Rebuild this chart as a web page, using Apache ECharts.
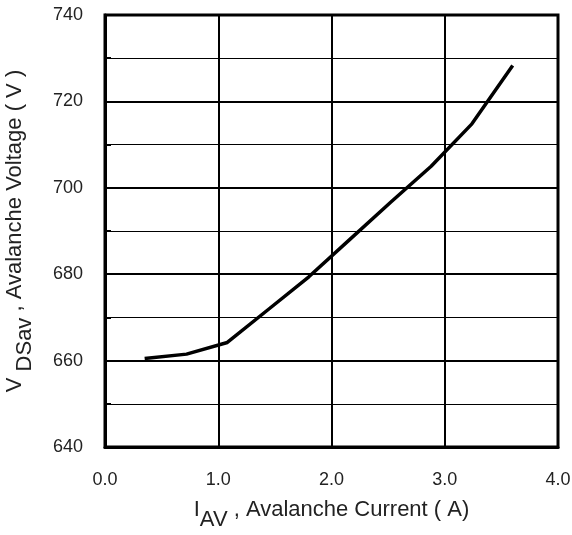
<!DOCTYPE html>
<html>
<head>
<meta charset="utf-8">
<script src="https://cdn.jsdelivr.net/npm/echarts@6/dist/echarts.min.js"></script>
<style>
  html, body { margin: 0; padding: 0; background: #fff; }
  #chart { width: 572px; height: 535px; }
</style>
</head>
<body>
<div id="chart"></div>
<script>
// 雪崩电流 (A) 与 雪崩电压 (V)
const currentA = [0.35, 0.72, 1.08, 1.45, 1.8, 2.16, 2.52, 2.88, 3.24, 3.6]
const voltageV = [660.5, 661.5, 664.2, 672.0, 679.4, 688.0, 696.6, 705.0, 714.8, 728.3]

const chart = echarts.init(document.getElementById('chart'))

const font = 'Liberation Sans, Arial, sans-serif'
const textColor = '#222'

// 主文字 + 下标
const nameRich = {
  m: { fontSize: 22, fontFamily: font, color: textColor, lineHeight: 24, verticalAlign: 'top' },
  s: { fontSize: 22, fontFamily: font, color: textColor, lineHeight: 32, verticalAlign: 'bottom' }
}

const option = {
  animation: false,
  grid: {
    left: 105,
    right: 14,
    top: 15,
    bottom: 88,
    show: true,
    borderColor: '#000',
    borderWidth: 3,
    outerBoundsMode: 'none'
  },
  xAxis: {
    type: 'value',
    min: 0,
    max: 4,
    interval: 1,
    name: '{m|I}{s|AV}{m| , Avalanche Current ( A)}',
    nameLocation: 'middle',
    nameGap: 52,
    nameTextStyle: { rich: nameRich },
    axisLine: { show: true, lineStyle: { color: '#000', width: 3 } },
    axisTick: { show: false },
    axisLabel: {
      margin: 24,
      fontSize: 18,
      fontFamily: font,
      color: textColor,
      formatter: v => v.toFixed(1)
    },
    splitLine: { show: true, lineStyle: { color: '#000', width: 2 } }
  },
  yAxis: {
    type: 'value',
    min: 640,
    max: 740,
    interval: 20,
    name: '{m|V }{s|DSav}{m| , Avalanche Voltage ( V )}',
    nameLocation: 'middle',
    nameRotate: 90,
    nameGap: 69,
    nameTextStyle: { rich: nameRich },
    axisLine: { show: true, lineStyle: { color: '#000', width: 3 } },
    axisTick: { show: true, inside: true, length: 6, lineStyle: { color: '#000', width: 2 } },
    minorTick: { show: true, splitNumber: 2, length: 6, lineStyle: { color: '#000', width: 2 } },
    minorSplitLine: { show: true, lineStyle: { color: '#000', width: 1 } },
    axisLabel: {
      margin: 22,
      fontSize: 18,
      fontFamily: font,
      color: textColor
    },
    splitLine: { show: true, lineStyle: { color: '#000', width: 2 } }
  },
  series: [{
    type: 'line',
    data: currentA.map((x, i) => [x, voltageV[i]]),
    showSymbol: false,
    lineStyle: { color: '#000', width: 3.5 },
    z: 5
  }]
}

chart.setOption(option)
</script>
</body>
</html>
